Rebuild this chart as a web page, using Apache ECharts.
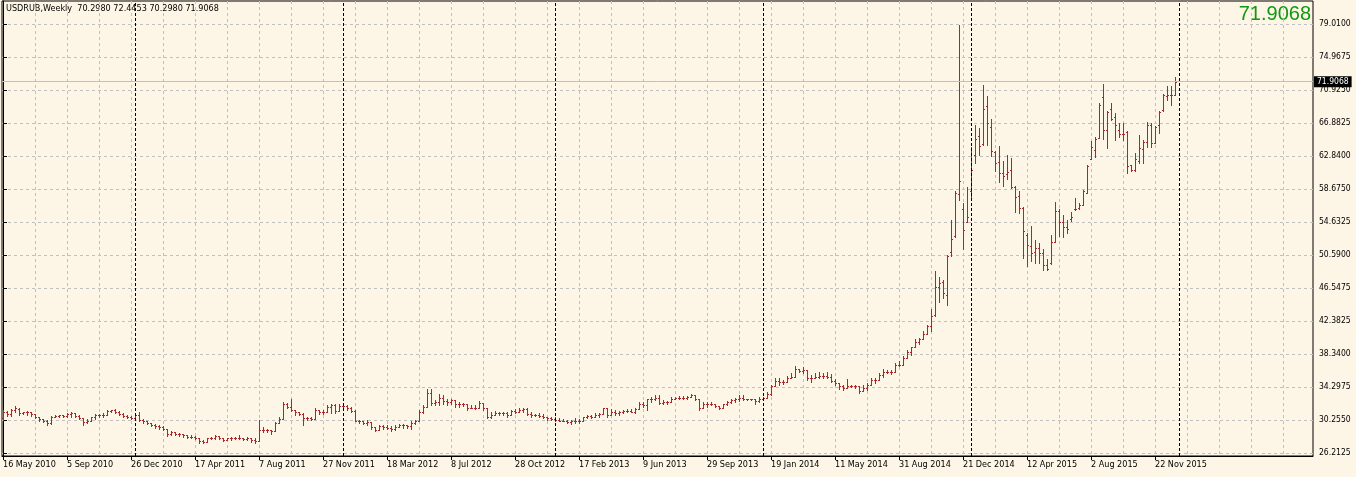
<!DOCTYPE html>
<html>
<head>
<meta charset="utf-8">
<title>USDRUB Weekly</title>
<script src="https://cdn.jsdelivr.net/npm/echarts@6/dist/echarts.min.js"></script>
<style>
  html, body { margin: 0; padding: 0; background: #fdf5e6; }
  #chart { width: 1356px; height: 477px; }
</style>
</head>
<body>
<div id="chart"></div>
<script>
// weekly bars, first bar = week of 16 May 2010
const symbol = 'USDRUB';
const period = 'Weekly';

const opens = [
  30.5, 31.2, 31.0, 31.5, 31.6, 31.1, 31.2, 31.2, 31.0, 30.6,
  30.4, 30.2, 29.9, 30.7, 30.8, 30.9, 30.8, 31.0, 31.1, 30.8,
  30.5, 30.0, 30.2, 30.6, 30.9, 30.9, 30.9, 31.4, 31.5, 31.3,
  31.0, 30.8, 30.6, 30.5, 30.9, 30.3, 30.1, 29.9, 29.7, 29.5,
  29.4, 29.2, 28.5, 28.8, 28.6, 28.5, 28.4, 28.2, 28.2, 28.1,
  27.7, 27.6, 28.0, 28.1, 28.3, 28.0, 27.8, 28.0, 28.1, 28.1,
  28.0, 27.9, 28.0, 27.8, 27.7, 29.0, 29.1, 29.0, 28.9, 29.9,
  30.4, 32.2, 31.9, 31.5, 31.2, 31.0, 30.5, 30.5, 30.4, 31.5,
  31.2, 31.3, 31.9, 32.1, 31.4, 32.0, 32.0, 31.7, 31.4, 30.2,
  30.1, 29.9, 30.0, 29.4, 29.1, 29.5, 29.4, 29.3, 29.2, 29.4,
  29.6, 29.6, 29.5, 29.9, 30.2, 31.2, 31.9, 33.6, 32.4, 32.5,
  33.0, 32.6, 32.5, 32.7, 32.3, 32.2, 32.2, 31.7, 31.8, 31.8,
  32.4, 31.8, 30.7, 30.9, 31.1, 31.1, 31.1, 30.9, 31.4, 31.3,
  31.5, 31.6, 31.0, 30.9, 30.9, 30.8, 30.6, 30.5, 30.4, 30.3,
  30.2, 30.2, 30.0, 30.1, 30.2, 30.2, 30.6, 30.8, 30.7, 30.9,
  31.0, 31.7, 30.9, 31.3, 31.1, 31.3, 31.4, 31.4, 31.3, 31.6,
  32.2, 32.1, 32.8, 32.9, 33.0, 32.4, 32.5, 32.5, 32.9, 33.0,
  33.0, 33.0, 33.1, 33.3, 32.9, 31.8, 32.2, 32.3, 32.3, 32.0,
  31.8, 32.2, 32.5, 32.7, 32.8, 33.0, 32.8, 32.8, 32.8, 32.6,
  32.9, 33.0, 33.5, 34.5, 35.1, 34.9, 35.0, 35.5, 35.6, 36.6,
  36.3, 36.4, 35.5, 35.5, 35.6, 35.7, 35.7, 35.6, 35.1, 34.8,
  34.4, 34.2, 34.5, 34.4, 34.4, 33.9, 34.2, 34.6, 35.2, 35.2,
  35.8, 36.2, 36.2, 36.2, 37.0, 37.1, 37.9, 38.7, 39.2, 39.9,
  40.2, 40.9, 41.8, 43.2, 46.6, 47.3, 45.7, 50.9, 52.9, 58.1,
  56.2, 54.7, 58.4, 62.9, 65.2, 64.3, 68.9, 66.3, 63.3, 62.0,
  60.7, 60.5, 61.0, 59.0, 57.8, 56.4, 53.1, 51.7, 50.9, 51.5,
  50.85, 49.3, 49.6, 52.2, 56.0, 54.7, 54.0, 55.0, 56.3, 56.4,
  56.75, 58.2, 62.4, 63.5, 65.0, 70.0, 66.0, 68.5, 67.6, 65.96,
  65.5, 65.76, 61.6, 61.1, 62.2, 63.6, 64.5, 66.6, 64.4, 66.6,
  68.4, 70.2, 70.3, 70.2980
];
const highs = [
  31.5, 31.4, 31.6, 31.95, 31.7, 31.3, 31.35, 31.25, 31.0, 30.7,
  30.45, 30.3, 30.8, 30.9, 30.95, 30.95, 31.1, 31.2, 31.15, 30.85,
  30.5, 30.4, 30.7, 31.0, 31.0, 31.1, 31.5, 31.55, 31.6, 31.35,
  31.1, 30.9, 30.8, 31.1, 31.2, 30.35, 30.2, 29.95, 29.75, 29.6,
  29.5, 29.2, 28.9, 28.85, 28.7, 28.6, 28.45, 28.4, 28.25, 28.1,
  27.8, 28.1, 28.2, 28.4, 28.35, 28.05, 28.1, 28.2, 28.2, 28.4,
  28.1, 28.2, 28.0, 28.0, 30.3, 29.4, 29.2, 29.05, 30.0, 30.7,
  32.5, 32.4, 32.9, 31.5, 31.3, 31.1, 30.7, 30.7, 31.7, 31.55,
  31.5, 32.1, 32.3, 32.3, 32.3, 32.3, 32.1, 31.9, 31.5, 30.3,
  30.2, 30.3, 30.0, 29.45, 29.7, 29.7, 29.6, 29.5, 29.6, 29.8,
  29.8, 29.7, 30.1, 30.3, 31.5, 32.1, 34.1, 34.1, 32.7, 33.5,
  33.3, 32.9, 32.9, 32.75, 32.5, 32.4, 32.2, 32.1, 32.1, 32.6,
  32.4, 31.8, 31.3, 31.4, 31.3, 31.2, 31.2, 31.5, 31.6, 31.7,
  31.8, 31.7, 31.3, 31.0, 31.1, 31.0, 30.7, 30.7, 30.6, 30.5,
  30.4, 30.3, 30.3, 30.5, 30.4, 30.7, 30.9, 30.9, 31.1, 31.1,
  31.8, 31.8, 31.6, 31.5, 31.4, 31.5, 31.6, 31.6, 31.7, 32.5,
  32.5, 32.9, 33.1, 33.3, 33.3, 32.7, 32.6, 33.1, 33.1, 33.2,
  33.2, 33.2, 33.5, 33.4, 32.9, 32.5, 32.5, 32.5, 32.3, 32.0,
  32.3, 32.6, 32.9, 33.0, 33.3, 33.3, 32.9, 32.9, 32.9, 33.1,
  33.1, 33.7, 34.6, 35.4, 35.5, 35.2, 35.7, 36.0, 36.9, 36.6,
  36.8, 36.4, 35.8, 36.1, 36.2, 36.0, 36.2, 35.9, 35.3, 34.8,
  34.6, 35.3, 34.6, 34.6, 34.5, 34.6, 34.8, 35.4, 35.4, 36.0,
  36.5, 36.4, 36.4, 37.35, 37.5, 38.1, 38.9, 39.3, 40.2, 40.4,
  41.2, 42.0, 43.9, 48.65, 47.9, 47.5, 50.6, 54.9, 58.4, 78.9,
  57.0, 59.0, 63.9, 66.6, 66.2, 71.5, 70.15, 67.3, 63.4, 64.0,
  62.1, 62.9, 62.5, 59.1, 58.5, 56.5, 53.25, 54.1, 52.4, 52.1,
  51.3, 50.1, 53.0, 57.1, 56.2, 55.5, 54.9, 55.9, 57.55, 57.0,
  58.6, 61.65, 64.6, 65.1, 69.25, 71.6, 68.3, 69.25, 68.0, 66.8,
  66.8, 65.9, 61.65, 63.1, 65.4, 64.7, 66.9, 66.8, 66.45, 68.3,
  70.4, 71.4, 71.4, 72.4453
];
const lows = [
  30.3, 30.8, 30.8, 31.3, 30.9, 31.0, 30.9, 30.8, 30.5, 30.2,
  30.0, 29.7, 29.8, 30.6, 30.7, 30.7, 30.7, 30.7, 30.7, 30.4,
  29.7, 29.9, 30.2, 30.4, 30.7, 30.7, 30.9, 31.2, 31.1, 30.9,
  30.7, 30.5, 30.4, 30.5, 30.1, 29.9, 29.8, 29.5, 29.3, 29.2,
  29.1, 28.3, 28.4, 28.4, 28.3, 28.2, 28.1, 28.0, 27.9, 27.4,
  27.4, 27.6, 27.9, 27.9, 27.9, 27.7, 27.8, 27.8, 27.9, 27.9,
  27.8, 27.8, 27.6, 27.5, 27.7, 28.8, 28.8, 28.6, 28.9, 29.9,
  30.4, 31.7, 31.4, 30.9, 30.9, 29.7, 30.3, 30.3, 30.4, 31.0,
  31.0, 31.2, 31.1, 31.1, 31.4, 31.9, 31.5, 31.3, 30.1, 29.9,
  29.8, 29.7, 29.2, 28.9, 29.1, 29.2, 29.2, 28.9, 29.1, 29.4,
  29.3, 29.3, 29.2, 29.8, 30.2, 31.1, 31.9, 32.1, 32.1, 32.1,
  32.3, 32.1, 32.3, 31.9, 31.9, 32.0, 31.5, 31.7, 31.6, 31.7,
  31.5, 30.5, 30.5, 30.9, 30.9, 30.9, 30.7, 30.9, 31.1, 31.2,
  31.2, 30.9, 30.7, 30.8, 30.7, 30.5, 30.3, 30.3, 30.1, 30.1,
  30.1, 29.9, 29.8, 29.9, 29.9, 30.2, 30.5, 30.5, 30.7, 30.7,
  31.0, 30.7, 30.9, 30.9, 30.9, 31.1, 31.2, 31.2, 31.1, 31.6,
  31.9, 31.5, 32.5, 32.7, 32.3, 32.3, 32.3, 32.5, 32.8, 32.8,
  32.8, 32.8, 33.1, 32.7, 31.5, 31.7, 31.9, 32.1, 31.9, 31.6,
  31.8, 32.1, 32.4, 32.5, 32.6, 32.7, 32.7, 32.7, 32.3, 32.5,
  32.9, 33.0, 33.35, 34.5, 34.6, 34.7, 35.0, 35.4, 35.6, 36.2,
  36.1, 35.2, 35.0, 35.4, 35.4, 35.5, 35.5, 35.0, 34.6, 34.05,
  34.0, 34.2, 34.3, 34.2, 33.55, 33.8, 34.0, 34.6, 34.8, 35.2,
  35.6, 36.0, 35.95, 36.2, 36.9, 37.1, 37.9, 38.3, 39.2, 39.6,
  40.2, 40.8, 41.2, 43.1, 44.8, 45.25, 44.4, 50.4, 52.8, 57.35,
  51.3, 54.6, 57.35, 61.9, 62.9, 64.1, 64.1, 62.8, 60.95, 59.6,
  59.1, 59.9, 58.8, 55.9, 55.8, 50.2, 49.2, 49.9, 49.6, 49.6,
  48.7, 48.7, 49.5, 52.2, 52.9, 52.8, 53.25, 54.8, 56.1, 56.2,
  56.7, 58.2, 62.4, 62.6, 65.0, 64.8, 63.7, 67.2, 64.7, 65.15,
  64.7, 60.7, 60.95, 60.95, 61.95, 61.95, 63.85, 63.85, 64.4, 65.6,
  68.35, 69.6, 69.05, 70.2980
];
const closes = [
  31.2, 31.0, 31.5, 31.7, 31.1, 31.2, 31.2, 31.0, 30.6, 30.4,
  30.2, 29.9, 30.7, 30.8, 30.9, 30.8, 31.0, 31.1, 30.8, 30.5,
  30.0, 30.2, 30.6, 30.9, 30.9, 30.9, 31.4, 31.5, 31.3, 31.0,
  30.8, 30.6, 30.5, 30.9, 30.3, 30.1, 29.9, 29.7, 29.5, 29.4,
  29.2, 28.5, 28.8, 28.6, 28.5, 28.4, 28.2, 28.2, 28.1, 27.7,
  27.6, 28.0, 28.1, 28.3, 28.0, 27.8, 28.0, 28.1, 28.1, 28.0,
  27.9, 28.0, 27.8, 27.7, 29.0, 29.1, 29.0, 28.9, 29.9, 30.4,
  32.2, 31.9, 31.5, 31.2, 31.0, 30.5, 30.5, 30.4, 31.5, 31.2,
  31.3, 31.9, 32.1, 31.4, 32.0, 32.0, 31.7, 31.4, 30.2, 30.1,
  29.9, 30.0, 29.4, 29.1, 29.5, 29.4, 29.3, 29.2, 29.4, 29.6,
  29.6, 29.5, 29.9, 30.2, 31.2, 31.9, 33.6, 32.4, 32.5, 33.0,
  32.6, 32.5, 32.7, 32.3, 32.2, 32.2, 31.7, 31.8, 31.8, 32.4,
  31.8, 30.7, 30.9, 31.1, 31.1, 31.1, 30.9, 31.4, 31.3, 31.5,
  31.6, 31.0, 30.9, 30.9, 30.8, 30.6, 30.5, 30.4, 30.3, 30.2,
  30.2, 30.0, 30.1, 30.2, 30.2, 30.6, 30.8, 30.7, 30.9, 31.0,
  31.7, 30.9, 31.3, 31.1, 31.3, 31.4, 31.4, 31.3, 31.6, 32.2,
  32.1, 32.8, 32.9, 33.0, 32.4, 32.5, 32.5, 32.9, 33.0, 33.0,
  33.0, 33.1, 33.3, 32.9, 31.8, 32.2, 32.3, 32.3, 32.0, 31.8,
  32.2, 32.5, 32.7, 32.8, 33.0, 32.8, 32.8, 32.8, 32.6, 32.9,
  33.0, 33.5, 34.5, 35.1, 34.9, 35.0, 35.5, 35.6, 36.6, 36.3,
  36.4, 35.5, 35.5, 35.6, 35.7, 35.7, 35.6, 35.1, 34.8, 34.4,
  34.2, 34.5, 34.4, 34.4, 33.9, 34.2, 34.6, 35.2, 35.2, 35.8,
  36.2, 36.2, 36.2, 37.0, 37.1, 37.9, 38.7, 39.2, 39.9, 40.2,
  40.9, 41.8, 43.1, 46.7, 47.1, 45.9, 50.45, 52.5, 58.2, 59.7,
  53.7, 55.2, 61.1, 64.9, 64.0, 68.6, 66.8, 63.4, 61.9, 60.7,
  60.3, 60.8, 59.0, 57.7, 56.4, 53.5, 51.8, 50.8, 51.5, 50.8,
  49.35, 48.9, 52.2, 56.0, 54.7, 54.0, 53.75, 55.3, 56.2, 56.7,
  58.4, 61.5, 63.9, 64.9, 69.0, 65.96, 68.2, 67.3, 66.6, 65.47,
  65.5, 61.57, 61.04, 62.36, 63.7, 64.5, 66.6, 64.4, 66.3, 68.2,
  70.27, 70.3, 70.3, 71.9068
];

// time axis labels, one every 16 weeks
const dateLabels = [
  '16 May 2010', '5 Sep 2010', '26 Dec 2010', '17 Apr 2011', '7 Aug 2011',
  '27 Nov 2011', '18 Mar 2012', '8 Jul 2012', '28 Oct 2012', '17 Feb 2013',
  '9 Jun 2013', '29 Sep 2013', '19 Jan 2014', '11 May 2014', '31 Aug 2014',
  '21 Dec 2014', '12 Apr 2015', '2 Aug 2015', '22 Nov 2015'
];
// price scale labels, bottom to top
const priceLabels = [
  '26.2125', '30.2550', '34.2975', '38.3400', '42.3825', '46.5475', '50.5900',
  '54.6325', '58.6750', '62.8400', '66.8825', '70.9250', '74.9675', '79.0100'
];
// first bar of each year (period separators)
const yearStarts = [33, 85, 138, 190, 242, 294];

const barColor = '#a8282c';
const gridColor = '#c0c0c0';
const font = '"DejaVu Sans Condensed", "DejaVu Sans", sans-serif';

const lastIdx = closes.length - 1;
const fmt = v => v.toFixed(4);

// evenly spaced price grid levels
const lo = parseFloat(priceLabels[0]);
const hi = parseFloat(priceLabels[priceLabels.length - 1]);
const step = (hi - lo) / (priceLabels.length - 1);
const levels = priceLabels.map((s, k) => lo + k * step);

const labelIdx = dateLabels.map((s, k) => k * 16);
const vGridIdx = [];
for (let i = 8; i < 328; i += 8) vGridIdx.push(i);

const bars = opens.map((o, i) => [i, o, highs[i], lows[i], closes[i]]);

const chart = echarts.init(document.getElementById('chart'), null, { renderer: 'canvas' });

chart.setOption({
  backgroundColor: '#fdf5e6',
  color: [barColor],
  animation: false,
  grid: {
    left: 2, right: 43, top: 1, bottom: 21,
    show: true, borderColor: '#000', borderWidth: 1
  },
  xAxis: [
    {
      type: 'value', min: -0.25, max: 327.5,
      axisLine: { show: true, lineStyle: { color: '#000' } },
      axisTick: { show: true, customValues: labelIdx, length: 4, lineStyle: { color: '#000' } },
      axisLabel: {
        customValues: labelIdx,
        formatter: v => dateLabels[Math.round(v / 16)] || '',
        align: 'left', margin: 4, color: '#000', fontSize: 9, fontFamily: font
      },
      splitLine: { show: false }
    },
    {
      type: 'value', min: -0.25, max: 327.5, position: 'bottom',
      axisLine: { show: false },
      axisTick: { show: false, customValues: vGridIdx },
      axisLabel: { show: false, customValues: vGridIdx },
      splitLine: { show: true, lineStyle: { color: gridColor, type: [3, 3] } }
    }
  ],
  yAxis: {
    type: 'value', position: 'right', min: 25.8433, max: 81.8406,
    axisLine: { show: true, lineStyle: { color: '#000' } },
    axisTick: { show: true, customValues: levels, length: 4, lineStyle: { color: '#000' } },
    axisLabel: {
      customValues: levels,
      formatter: v => priceLabels[Math.round((v - lo) / step)] || '',
      margin: 6, color: '#000', fontSize: 8.5, fontFamily: font
    },
    splitLine: { show: true, lineStyle: { color: gridColor, type: [3, 3] } }
  },
  series: [{
    type: 'custom',
    xAxisIndex: 0,
    data: bars,
    encode: { x: 0, y: [1, 2, 3, 4] },
    renderItem: function (params, api) {
      const i = api.value(0);
      const x = Math.round(api.coord([i, 0])[0]);
      const yO = Math.round(api.coord([i, api.value(1)])[1]);
      const yH = Math.round(api.coord([i, api.value(2)])[1]);
      const yL = Math.round(api.coord([i, api.value(3)])[1]);
      const yC = Math.round(api.coord([i, api.value(4)])[1]);
      const st = () => ({ fill: barColor, stroke: null, lineWidth: 0 });
      return {
        type: 'group',
        children: [
          { type: 'rect', shape: { x: x, y: yH, width: 1, height: yL - yH + 1 }, style: st() },
          { type: 'rect', shape: { x: x - 1, y: yO, width: 1, height: 1 }, style: st() },
          { type: 'rect', shape: { x: x + 1, y: yC, width: 1, height: 1 }, style: st() }
        ]
      };
    },
    markLine: {
      silent: true,
      symbol: 'none',
      animation: false,
      data: yearStarts.map(v => ({
        xAxis: v,
        lineStyle: { color: '#000', type: [3, 2], width: 1 },
        label: { show: false }
      })).concat([{
        yAxis: closes[lastIdx],
        lineStyle: { color: gridColor, type: 'solid', width: 1 },
        label: {
          show: true, position: 'end', distance: 1,
          formatter: fmt(closes[lastIdx]),
          color: '#fff', backgroundColor: '#000',
          padding: [1, 3, 1, 3], fontSize: 8.5, fontFamily: font
        }
      }])
    }
  }],
  graphic: [
    {
      type: 'text', left: 6, top: 4,
      style: {
        text: symbol + ',' + period + '  ' + [opens[lastIdx], highs[lastIdx], lows[lastIdx], closes[lastIdx]].map(fmt).join(' '),
        fill: '#000', fontSize: 9, fontFamily: font
      }
    },
    {
      type: 'text', right: 45, top: 4,
      style: {
        text: fmt(closes[lastIdx]),
        fill: '#0f990f', fontSize: 20,
        fontFamily: '"Liberation Sans", Arial, sans-serif'
      }
    }
  ]
});
</script>
</body>
</html>
